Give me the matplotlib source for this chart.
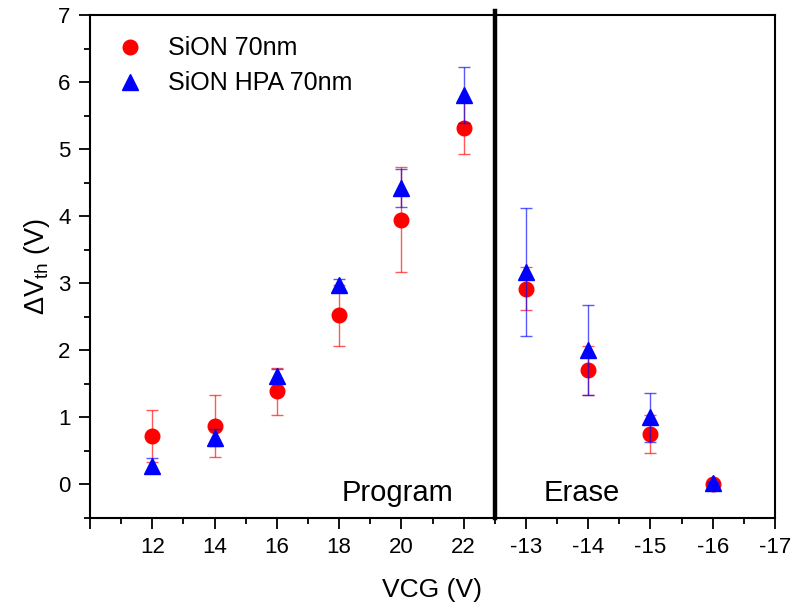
import matplotlib
matplotlib.use("Agg")
import matplotlib.pyplot as plt
from matplotlib.lines import Line2D

plt.rcParams['font.family'] = ['Liberation Sans', 'DejaVu Sans']
plt.rcParams['mathtext.fontset'] = 'custom'
plt.rcParams['mathtext.rm'] = 'Liberation Sans'
plt.rcParams['mathtext.it'] = 'Liberation Sans:italic'

# Categories (VCG in V), shown at equally spaced positions
tick_labels = ["", "12", "14", "16", "18", "20", "22", "-13", "-14", "-15", "-16", "-17"]
vcg = ["12", "14", "16", "18", "20", "22", "-13", "-14", "-15", "-16"]

sion_val = [0.72, 0.87, 1.39, 2.52, 3.95, 5.32, 2.92, 1.70, 0.75, 0.01]
sion_err = [0.39, 0.46, 0.35, 0.46, 0.78, 0.39, 0.32, 0.36, 0.28, 0.02]

hpa_val = [0.28, 0.70, 1.62, 2.97, 4.42, 5.81, 3.17, 2.00, 1.00, 0.02]
hpa_err = [0.11, 0.13, 0.10, 0.10, 0.28, 0.42, 0.95, 0.67, 0.37, 0.02]

pos = list(range(len(vcg)))
tick_pos = list(range(-1, len(tick_labels) - 1))

fig = plt.figure(figsize=(7.95, 6.10), dpi=100)
ax = fig.add_axes([90/795, 1 - 518/610, (775-90)/795, (518-15)/610])

red = '#ff0000'
blue = '#0000ff'

ax.errorbar(pos, sion_val, yerr=sion_err, fmt='none', ecolor=red, elinewidth=1.0,
            capsize=4.5, capthick=1.0, alpha=0.65, zorder=2)
ax.plot(pos, sion_val, linestyle='none', marker='o', markersize=10.5, color=red,
        markeredgecolor=red, zorder=3)
ax.errorbar(pos, hpa_val, yerr=hpa_err, fmt='none', ecolor=blue, elinewidth=1.0,
            capsize=4.5, capthick=1.0, alpha=0.65, zorder=4)
ax.plot(pos, hpa_val, linestyle='none', marker='^', markersize=11, color=blue,
        markeredgecolor=blue, zorder=5)

ax.set_xlim(-1, 10)
ax.set_ylim(-0.5, 7)

ax.set_xticks(tick_pos)
ax.set_xticklabels(tick_labels)
ax.set_xticks([p + 0.5 for p in tick_pos[:-1]], minor=True)
ax.set_yticks(range(0, 8))
ax.set_yticks([i + 0.5 for i in range(-1, 7)], minor=True)

ax.tick_params(axis='both', which='major', direction='out', length=8, width=1.3,
               labelsize=16, pad=6)
ax.tick_params(axis='both', which='minor', direction='out', length=4, width=1.3)
ax.tick_params(top=False, right=False)

for s in ax.spines.values():
    s.set_linewidth(1.5)

ax.axvline(5.5, ymin=0, ymax=1.008, color='black', linewidth=3.2, clip_on=False, zorder=6)

ax.text(4.84, -0.12, "Program", ha='right', va='center', fontsize=21)
ax.text(6.29, -0.12, "Erase", ha='left', va='center', fontsize=21)

ax.set_xlabel("VCG (V)", fontsize=19, labelpad=14)
ax.set_ylabel(r"$\Delta$V$_{\rm th}$ (V)", fontsize=19.5, labelpad=4)

handles = [
    Line2D([], [], linestyle='none', marker='o', markersize=10.5, color=red),
    Line2D([], [], linestyle='none', marker='^', markersize=11, color=blue),
]
ax.legend(handles, ["SiON 70nm", "SiON HPA 70nm"], loc='upper left', frameon=False,
          fontsize=18, handletextpad=0.75, labelspacing=0.45,
          bbox_to_anchor=(0.0, 1.0), borderaxespad=0.45, handlelength=1.5)

fig.savefig("out.png", dpi=100)
